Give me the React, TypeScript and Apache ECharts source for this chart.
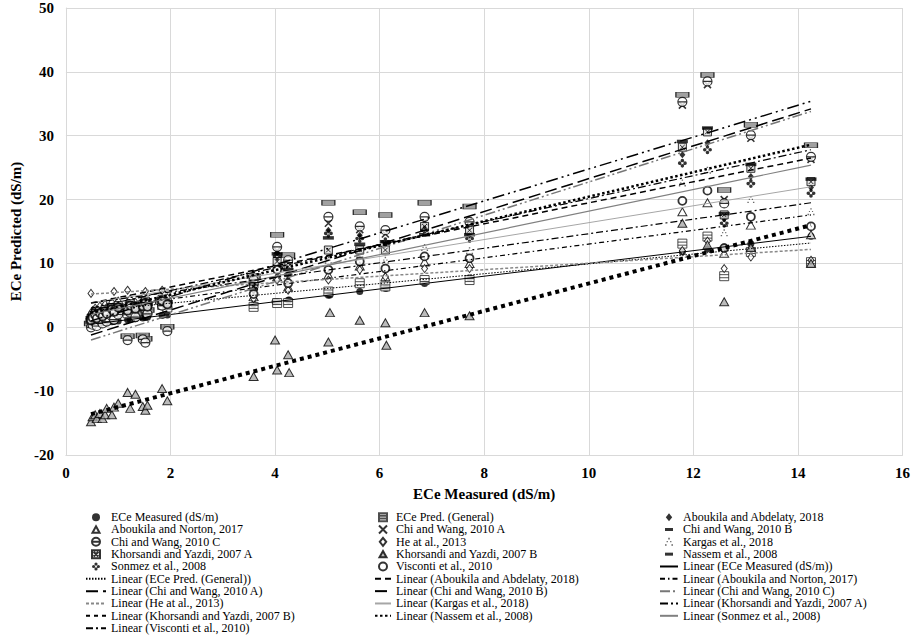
import React, { useEffect, useRef } from "react";
import * as echarts from "echarts";

// Measured ECe (x) values shared by all series
const X = [
  0.48, 0.51, 0.56, 0.59, 0.65, 0.70, 0.75, 0.78, 0.88, 0.92, 1.00, 1.18, 1.23, 1.33, 1.47, 1.52, 1.56, 1.84, 1.94,
  3.59, 4.00, 4.04, 4.25, 4.27, 5.02, 5.05, 5.62, 6.11, 6.13, 6.86, 7.72,
  11.79, 12.27, 12.59, 13.10, 14.25,
];

const SERIES_NAMES = [
  "ECe Measured (dS/m)",
  "ECe Pred. (General)",
  "Aboukila and Abdelaty, 2018",
  "Aboukila and Norton, 2017",
  "Chi and Wang, 2010 A",
  "Chi and Wang, 2010 B",
  "Chi and Wang, 2010 C",
  "He at al., 2013",
  "Kargas et al., 2018",
  "Khorsandi and Yazdi, 2007 A",
  "Khorsandi and Yazdi, 2007 B",
  "Nassem et al., 2008",
  "Sonmez et al., 2008",
  "Visconti et al., 2010",
];

const measured = [
  0.48, 0.51, 0.56, 0.59, 0.65, 0.70, 0.75, 0.78, 0.88, 0.92, 1.00, 1.18, 1.23, 1.33, 1.47, 1.52, 1.56, 1.84, 1.94,
  3.59, 4.00, 4.04, 4.25, 4.27, 5.02, 5.05, 5.62, 6.11, 6.13, 6.86, 7.72,
  11.79, 12.27, 12.59, 13.10, 14.25,
];
const general = [
  0.9, 1.2, 1.5, 1.0, 1.8, 1.4, 2.1, 1.6, 2.4, 1.9, 2.6, 2.2, 3.0, 2.5, 2.8, 3.3, 2.7, 3.5, 3.1,
  3.2, null, 3.8, 3.8, null, 5.6, null, 6.9, 6.4, null, 7.4, 7.4,
  13.1, 14.2, 8.0, 11.8, 10.2,
];
const abdelaty = [
  1.6, 2.0, 2.4, 1.9, 2.7, 2.2, 3.0, 2.6, 3.3, 2.9, 3.6, 3.1, 3.9, 3.4, 3.8, 4.3, 3.7, 4.6, 4.1,
  6.2, null, 11.6, 8.6, null, 15.2, null, 14.4, 13.0, null, 15.6, 14.4,
  27.0, 28.9, 17.0, 23.6, 21.9,
];
const norton = [
  1.3, 1.7, 2.1, 1.6, 2.4, 1.9, 2.7, 2.3, 3.0, 2.6, 3.3, 2.8, 3.6, 3.1, 3.5, 4.0, 3.4, 4.3, 3.8,
  4.8, null, 7.9, 6.3, null, 8.2, null, 9.6, 7.9, null, 10.2, 10.0,
  18.1, 19.5, 11.6, 16.0, 14.5,
];
const chiA = [
  0.3, 0.7, 1.1, 0.5, 1.4, 0.9, 1.7, 1.2, 2.0, 1.5, 2.3, -1.7, 2.6, 1.9, -1.6, -2.1, 2.4, 3.7, -0.3,
  7.0, null, 12.0, 10.2, null, 16.3, null, 15.3, 14.6, null, 16.5, 16.0,
  34.8, 38.0, 20.0, 29.6, 26.3,
];
const chiB = [
  0.6, 1.0, 1.4, 0.8, 1.7, 1.2, 2.0, 1.5, 2.3, 1.8, 2.6, -1.4, 2.9, 2.2, -1.3, -1.8, 2.7, 4.0, 0.1,
  8.0, null, 14.5, 11.3, null, 19.5, null, 18.0, 17.6, null, 19.5, 18.9,
  36.4, 39.5, 21.5, 31.7, 28.5,
];
const chiC = [
  0.0, 0.4, 0.8, 0.2, 1.1, 0.6, 1.4, 0.9, 1.7, 1.2, 2.0, -2.0, 2.3, 1.6, -1.9, -2.4, 2.1, 3.4, -0.6,
  7.4, null, 12.6, 10.5, null, 17.3, null, 15.8, 15.2, null, 17.3, 16.5,
  35.3, 38.5, 19.4, 30.1, 26.7,
];
const he = [
  5.3, 2.6, 3.0, 2.5, 3.3, 2.8, 3.6, 3.1, 3.9, 5.6, 4.1, 5.8, 4.4, 3.9, 4.2, 5.6, 4.0, 5.8, 4.6,
  4.5, null, 7.4, 5.8, null, 7.4, null, 9.0, 7.9, null, 9.2, 9.2,
  12.0, 13.5, 9.2, 11.0, 10.5,
];
const kargas = [
  1.0, 1.4, 1.8, 1.3, 2.1, 1.6, 2.4, 2.0, 2.7, 2.3, 3.0, 2.5, 3.3, 2.8, 3.2, 3.7, 3.1, 4.0, 3.5,
  5.5, null, 9.8, 7.6, null, 10.5, null, 11.4, 10.5, null, 12.5, 12.0,
  22.6, 24.6, 14.8, 20.0, 18.1,
];
const khorA = [
  1.4, 1.8, 2.2, 1.7, 2.5, 2.0, 2.8, 2.4, 3.1, 2.7, 3.4, 2.9, 3.7, 3.2, 3.6, 4.1, 3.5, 4.4, 3.9,
  6.4, null, 10.3, 9.5, null, 12.1, null, 12.1, 12.1, null, 15.8, 15.2,
  28.2, 30.6, 17.6, 24.9, 22.8,
];
const khorB = [
  -14.8, -14.0, -13.7, -14.3, -13.5, -14.3, -13.7, -12.7, -13.7, -12.5, -11.9, -10.2, -12.7, -10.5, -12.4, -13.0, -12.2, -9.6, -11.5,
  -7.7, -2.0, -6.7, -4.3, -7.1, -2.3, 2.3, 1.1, 0.7, -2.8, 2.3, 1.8,
  16.3, 12.9, 4.0, 12.5, 10.0,
];
const nassem = [
  1.5, 1.9, 2.3, 1.8, 2.6, 2.1, 2.9, 2.5, 3.2, 2.8, 3.5, 3.0, 3.8, 3.3, 3.7, 4.2, 3.6, 4.5, 4.0,
  6.8, null, 11.5, 9.0, null, 14.0, null, 13.0, 13.4, null, 14.5, 14.5,
  29.1, 31.2, 17.8, 25.5, 23.2,
];
const sonmez = [
  1.2, 1.6, 2.0, 1.5, 2.3, 1.8, 2.6, 2.2, 2.9, 2.5, 3.2, 2.7, 3.5, 3.0, 3.4, 3.9, 3.3, 4.2, 3.7,
  6.0, null, 11.1, 8.2, null, 14.7, null, 13.9, 13.4, null, 15.2, 13.9,
  25.7, 27.8, 16.3, 22.5, 21.0,
];
const visconti = [
  1.1, 1.5, 1.9, 1.4, 2.2, 1.7, 2.5, 2.1, 2.8, 2.4, 3.1, 2.6, 3.4, 2.9, 3.3, 3.8, 3.2, 4.1, 3.6,
  5.2, null, 9.0, 6.9, null, 9.0, null, 10.3, 9.2, null, 11.1, 10.8,
  19.8, 21.4, 12.4, 17.3, 15.8,
];

const SERIES_VALUES = [measured, general, abdelaty, norton, chiA, chiB, chiC, he, kargas, khorA, khorB, nassem, sonmez, visconti];

// Trendline values at the first and last measured x (same order as SERIES_NAMES)
const TREND_X = [0.48, 14.25];
const trendStart = [0.48, 2.6, 3.8, 2.8, -1.2, 1.0, -2.0, 5.2, 3.8, 3.0, -13.6, 2.2, 2.0, 3.8];
const trendEnd = [14.25, 13.2, 26.5, 17.6, 34.2, 35.4, 33.8, 12.2, 22.0, 27.8, 16.0, 28.6, 25.4, 19.5];

const X_TICKS = { min: 0, max: 16, interval: 2 };
const Y_TICKS = { min: -20, max: 50, interval: 10 };

const FONT = '"Liberation Serif", "Times New Roman", serif';

const P_DOT = "path://M0,5a5,5 0 1,0 10,0a5,5 0 1,0 -10,0Z";
const P_TRI = "path://M5,0L10,9H0Z";
const P_DIAMOND = "path://M4,0L8,5L4,10L0,5Z";
const P_GENERAL = "path://M0,0H10V10H0Z M0,3.3H10 M0,6.7H10";
const P_X = "path://M0,0L10,10 M10,0L0,10";
const P_BAR = "path://M0,0H14V5H0Z";
const P_BAR2 = "path://M0,0H12V3.6H0Z";
const P_CIRCLE_LINE = "path://M0,5a5,5 0 1,0 10,0a5,5 0 1,0 -10,0Z M0,5H10";
const P_DOTS = "path://M4,0h2v2h-2Z M0,8h2v2h-2Z M8,8h2v2h-2Z M2,4h1.6v1.6h-1.6Z M6.4,4h1.6v1.6h-1.6Z";
const P_BOXX = "path://M0,0H10V10H0Z M2,2L8,8 M8,2L2,8";
const P_CLOVER =
  "path://M3,2a2,2 0 1,0 4,0a2,2 0 1,0 -4,0Z M3,8a2,2 0 1,0 4,0a2,2 0 1,0 -4,0Z M0,5a2,2 0 1,0 4,0a2,2 0 1,0 -4,0Z M6,5a2,2 0 1,0 4,0a2,2 0 1,0 -4,0Z";
// legend-only icons, padded so that they stay small inside the legend box
const L_BAR = "path://M0,-2.5 M10,5.5 M1,0H9V3H1Z";
const L_TRI = "path://M5,-1.2 M5,10.2 M5,0L10,9H0Z";

const SCATTER_STYLES: any[] = [
  { symbol: P_DOT, symbolSize: 7, itemStyle: { color: "#000" } },
  { symbol: P_GENERAL, symbolSize: [9, 9], itemStyle: { color: "#fff", borderColor: "#222", borderWidth: 1 } },
  { symbol: P_DIAMOND, symbolSize: [6, 7], itemStyle: { color: "#000" } },
  { symbol: P_TRI, symbolSize: [9, 8], itemStyle: { color: "#fff", borderColor: "#000", borderWidth: 1 } },
  { symbol: P_X, symbolSize: 7, itemStyle: { color: "rgba(0,0,0,0)", borderColor: "#000", borderWidth: 1.6 } },
  { symbol: P_BAR, symbolSize: [13, 5], itemStyle: { color: "#8a8a8a", borderColor: "#000", borderWidth: 0.8 } },
  { symbol: P_CIRCLE_LINE, symbolSize: 9, itemStyle: { color: "#fff", borderColor: "#000", borderWidth: 1.2 } },
  { symbol: P_DIAMOND, symbolSize: [6, 8], itemStyle: { color: "#fff", borderColor: "#000", borderWidth: 1 } },
  { symbol: P_DOTS, symbolSize: 7, itemStyle: { color: "#444" } },
  { symbol: P_BOXX, symbolSize: 8, itemStyle: { color: "#ddd", borderColor: "#000", borderWidth: 1 } },
  { symbol: P_TRI, symbolSize: [9, 8], itemStyle: { color: "#aaa", borderColor: "#000", borderWidth: 1 } },
  { symbol: P_BAR2, symbolSize: [11, 3.5], itemStyle: { color: "#000" } },
  { symbol: P_CLOVER, symbolSize: 9, itemStyle: { color: "#000" } },
  { symbol: P_DOT, symbolSize: 8, itemStyle: { color: "#fff", borderColor: "#000", borderWidth: 1.8 } },
];

// legend icon overrides (index -> legend item extras)
const LEGEND_ICON_EXTRA: any = {
  3: { icon: L_TRI },
  5: { icon: L_BAR, itemStyle: { color: "#000", borderWidth: 0 } },
  10: { icon: L_TRI },
  11: { icon: L_BAR },
};

const LINE_STYLES: any[] = [
  { color: "#000", width: 1, type: "solid" },
  { color: "#000", width: 1, type: [1.5, 1.5] },
  { color: "#000", width: 1.5, type: [6, 4] },
  { color: "#000", width: 1.2, type: [5, 3, 1.5, 3] },
  { color: "#000", width: 1.5, type: [12, 5] },
  { color: "#000", width: 1.5, type: [12, 4, 2, 4, 2, 4] },
  { color: "#777", width: 1.5, type: [10, 3, 2, 3, 2, 3] },
  { color: "#888", width: 1.5, type: [3, 2] },
  { color: "#a6a6a6", width: 1, type: "solid" },
  { color: "#000", width: 1.2, type: [8, 3, 2, 3] },
  { color: "#000", width: 4, type: [4, 4] },
  { color: "#000", width: 2.5, type: [2.5, 2.5] },
  { color: "#808080", width: 1.2, type: "solid" },
  { color: "#000", width: 1.2, type: [7, 3, 2, 3] },
];

export default function App() {
  const ref = useRef<HTMLDivElement>(null);
  useEffect(() => {
    if (!ref.current) return;
    const chart = echarts.init(ref.current, null, { renderer: "svg" });

    const scatterSeries = SERIES_NAMES.map((name, s) => ({
      name,
      type: "scatter",
      ...SCATTER_STYLES[s],
      data: X.map((x, i) => (SERIES_VALUES[s][i] == null ? null : [x, SERIES_VALUES[s][i]])).filter((d) => d),
      z: 3,
      silent: true,
    }));
    const lineNames = SERIES_NAMES.map((n) => "Linear (" + n + ")");
    const lineSeries = SERIES_NAMES.map((name, s) => ({
      name: lineNames[s],
      type: "line",
      symbol: "none",
      lineStyle: LINE_STYLES[s],
      itemStyle: { color: LINE_STYLES[s].color, opacity: 0 },
      data: [
        [TREND_X[0], trendStart[s]],
        [TREND_X[1], trendEnd[s]],
      ],
      z: 4,
      silent: true,
    }));
    const allItems: any[] = [
      ...SERIES_NAMES.map((n, s) => ({ name: n, ...(LEGEND_ICON_EXTRA[s] || {}) })),
      ...lineNames.map((n) => ({ name: n, itemStyle: { opacity: 0 } })),
    ];
    const cols = [0, 1, 2].map((c) => allItems.filter((_, i) => i % 3 === c));
    const legendBase = {
      orient: "vertical",
      top: 511,
      height: 128,
      padding: 0,
      itemHeight: 8,
      itemGap: 0,
      selectedMode: false,
      textStyle: { fontFamily: FONT, fontSize: 12, color: "#000", lineHeight: 12.33 },
    };

    chart.setOption({
      animation: false,
      backgroundColor: "#fff",
      grid: { left: 52, top: 8, right: 10, bottom: 184 },
      xAxis: {
        type: "value",
        ...X_TICKS,
        name: "ECe Measured (dS/m)",
        nameLocation: "middle",
        nameGap: 31,
        nameTextStyle: { fontFamily: FONT, fontSize: 15, fontWeight: "bold", color: "#000" },
        axisLine: { show: true, onZero: false, lineStyle: { color: "#d9d9d9" } },
        axisTick: { show: false },
        axisLabel: { fontFamily: FONT, fontSize: 15, fontWeight: "bold", color: "#000", margin: 10 },
        splitLine: { show: true, lineStyle: { color: "#d9d9d9" } },
      },
      yAxis: {
        type: "value",
        ...Y_TICKS,
        name: "ECe Predicted (dS/m)",
        nameLocation: "middle",
        nameGap: 40,
        nameTextStyle: { fontFamily: FONT, fontSize: 15, fontWeight: "bold", color: "#000" },
        axisLine: { show: true, lineStyle: { color: "#d9d9d9" } },
        axisTick: { show: false },
        axisLabel: { fontFamily: FONT, fontSize: 15, fontWeight: "bold", color: "#000", margin: 12 },
        splitLine: { show: true, lineStyle: { color: "#d9d9d9" } },
      },
      legend: [
        { ...legendBase, left: 85, itemWidth: 20, data: cols[0] },
        { ...legendBase, left: 374, itemWidth: 16, data: cols[1] },
        { ...legendBase, left: 659, itemWidth: 18, data: cols[2] },
      ],
      series: [...scatterSeries, ...lineSeries],
    });
    return () => chart.dispose();
  }, []);
  return <div ref={ref} style={{ position: "absolute", left: 0, top: 0, width: 913, height: 639, background: "#fff" }} />;
}
